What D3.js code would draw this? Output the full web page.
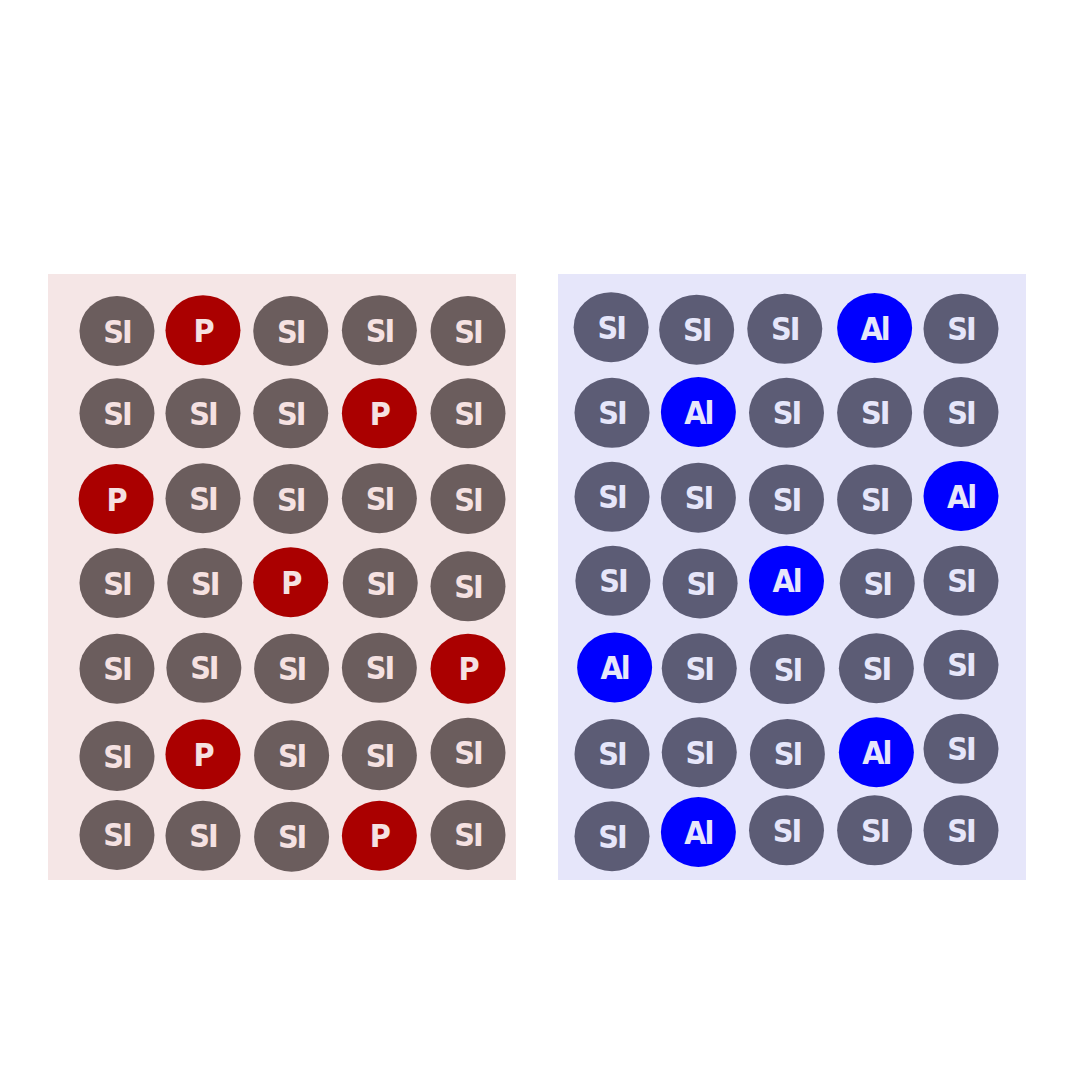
<!DOCTYPE html>
<html>
<head>
<meta charset="utf-8">
<script src="https://cdn.jsdelivr.net/npm/d3@7"></script>
<style>
html,body{margin:0;padding:0;background:#ffffff;}
svg{display:block;}
</style>
</head>
<body>
<script>
// ---- Data (lattice coordinates: column / row units) ----
const leftLabels = [
  "Si","P","Si","Si","Si",
  "Si","Si","Si","P","Si",
  "P","Si","Si","Si","Si",
  "Si","Si","P","Si","Si",
  "Si","Si","Si","Si","P",
  "Si","P","Si","Si","Si",
  "Si","Si","Si","P","Si"
];
const leftX = [
  0.00,0.98,1.98,2.99,4.00,
  0.00,0.98,1.98,2.99,4.00,
 -0.01,0.98,1.98,2.99,4.00,
  0.00,1.00,1.98,3.00,4.00,
  0.00,0.99,1.99,2.99,4.00,
  0.00,0.98,1.99,2.99,4.00,
  0.00,0.98,1.99,2.99,4.00
];
const leftY = [
  0.00,-0.01,0.00,-0.01,0.00,
  0.98,0.98,0.98,0.98,0.98,
  2.00,1.99,2.00,1.99,2.00,
  3.00,3.00,2.99,3.00,3.04,
  4.02,4.01,4.02,4.01,4.02,
  5.06,5.04,5.05,5.05,5.02,
  6.00,6.01,6.02,6.01,6.00
];
const rightLabels = [
  "Si","Si","Si","Al","Si",
  "Si","Al","Si","Si","Si",
  "Si","Si","Si","Si","Al",
  "Si","Si","Al","Si","Si",
  "Al","Si","Si","Si","Si",
  "Si","Si","Si","Al","Si",
  "Si","Al","Si","Si","Si"
];
const rightX = [
 -0.01,0.97,1.98,3.01,4.00,
  0.00,0.99,2.00,3.01,4.00,
  0.00,0.99,2.00,3.01,4.00,
  0.01,1.01,2.00,3.04,4.00,
  0.03,1.00,2.01,3.03,4.00,
  0.00,1.00,2.01,3.03,4.00,
  0.00,0.99,2.00,3.01,4.00
];
const rightY = [
 -0.01,0.02,0.01,0.00,0.01,
  1.01,1.00,1.01,1.01,1.00,
  2.01,2.02,2.04,2.04,2.00,
  3.01,3.04,3.01,3.04,3.01,
  4.04,4.05,4.06,4.05,4.01,
  5.07,5.05,5.07,5.05,5.01,
  6.05,6.00,5.98,5.98,5.98
];

// ---- Drawing ----
const W = 1080, H = 1080;
const svg = d3.select("body").append("svg").attr("width", W).attr("height", H);

const panels = [
  {labels:leftLabels, xs:leftX, ys:leftY,
   x0:48, x1:516, y0:274, y1:880,
   xDom:[-0.786, 4.547], yDom:[-0.679, 6.536],
   bg:"#f5e6e6", base:"#6b5d5d", dopant:"#aa0000", txt:"#f5e1e1", host:"Si"},
  {labels:rightLabels, xs:rightX, ys:rightY,
   x0:558, x1:1026, y0:274, y1:880,
   xDom:[-0.619, 4.745], yDom:[-0.643, 6.571],
   bg:"#e6e6fa", base:"#5c5c75", dopant:"#0000ff", txt:"#e6e6fa", host:"Si"}
];

panels.forEach(p => {
  const x = d3.scaleLinear().domain(p.xDom).range([p.x0, p.x1]);
  const y = d3.scaleLinear().domain(p.yDom).range([p.y0, p.y1]);
  const g = svg.append("g");
  g.append("rect")
    .attr("x", p.x0).attr("y", p.y0)
    .attr("width", p.x1 - p.x0).attr("height", p.y1 - p.y0)
    .attr("fill", p.bg);
  const data = p.labels.map((l, i) => ({label:l, x:p.xs[i], y:p.ys[i]}));
  const atoms = g.selectAll("g.atom").data(data).enter().append("g")
    .attr("class","atom")
    .attr("transform", d => `translate(${x(d.x)},${y(d.y)})`);
  atoms.append("ellipse")
    .attr("rx", 37.5).attr("ry", 35)
    .attr("fill", d => d.label === p.host ? p.base : p.dopant);
  atoms.append("text")
    .attr("text-anchor","middle")
    .attr("y", 11.5)
    .style("font-family","'DejaVu Sans Condensed', 'DejaVu Sans', sans-serif")
    .style("font-weight", 700)
    .style("font-size","32px")
    .style("letter-spacing","-2px")
    .style("text-transform", d => d.label === "Si" ? "uppercase" : "none")
    .attr("fill", p.txt)
    .text(d => d.label);
});
</script>
</body>
</html>
